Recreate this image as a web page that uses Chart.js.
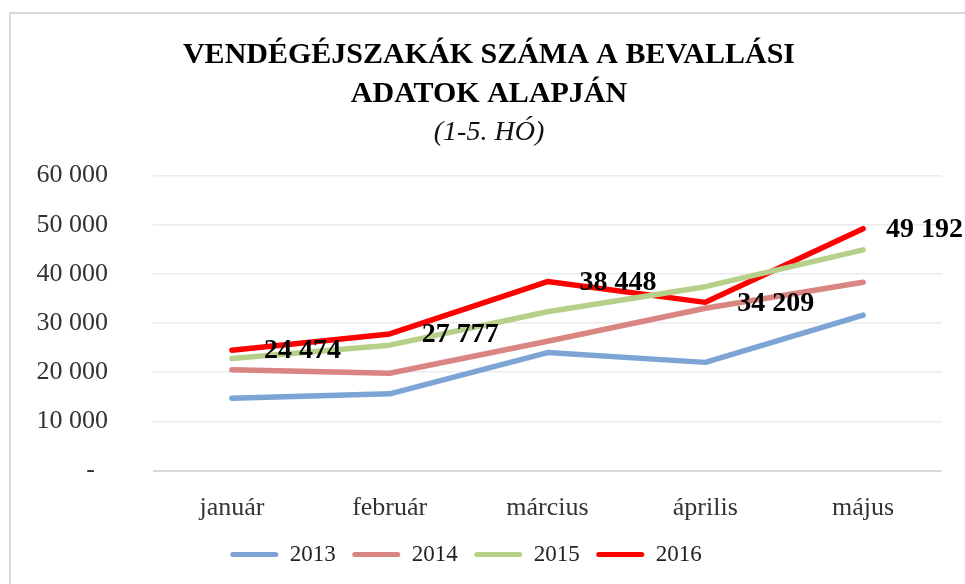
<!DOCTYPE html>
<html lang="hu">
<head>
<meta charset="utf-8">
<title>Vendégéjszakák száma</title>
<script src="https://cdn.jsdelivr.net/npm/chart.js@4/dist/chart.umd.min.js"></script>
<style>
    html, body { margin: 0; padding: 0; background: #fff; overflow: hidden; }
    #wrap { position: relative; width: 965px; height: 584px; }
    #frame {
        position: absolute; left: 9px; top: 12px; width: 1000px; height: 620px;
        border: 2px solid #d9d9d9; box-sizing: border-box;
    }
    #chart { position: absolute; left: 0; top: 0; }
</style>
</head>
<body>
<div id="wrap">
    <div id="frame"></div>
    <canvas id="chart" width="965" height="584"></canvas>
</div>
<script>
// ── Data ─────────────────────────────────────────────────────────────────────

const months = ['január', 'február', 'március', 'április', 'május'];
const years = ['2013', '2014', '2015', '2016'];

const nights2013 = [14700, 15600, 24000, 22000, 31600];
const nights2014 = [20500, 19800, 26300, 33000, 38300];
const nights2015 = [22800, 25500, 32300, 37400, 44900];
const nights2016 = [24474, 27777, 38448, 34209, 49192];

const yTicks = [0, 10000, 20000, 30000, 40000, 50000, 60000];

// ── Helpers ──────────────────────────────────────────────────────────────────

const SERIF = '"Liberation Serif", "DejaVu Serif", serif';
const colors = ['#7ca5d6', '#d98582', '#b6d08a', '#ff0000'];

const fmt = (v) => String(Math.round(v)).replace(/\B(?=(\d{3})+(?!\d))/g, ' ');

// Bold value labels to the right of the 2016 points
const valueLabels = {
    id: 'valueLabels',
    afterDatasetsDraw(chart) {
        const idx = chart.data.datasets.length - 1;
        const meta = chart.getDatasetMeta(idx);
        const ctx = chart.ctx;
        ctx.save();
        ctx.font = `bold 28px ${SERIF}`;
        ctx.fillStyle = '#000';
        ctx.textAlign = 'left';
        ctx.textBaseline = 'middle';
        meta.data.forEach((pt, i) => {
            const txt = fmt(chart.data.datasets[idx].data[i]);
            const w = ctx.measureText(txt).width;
            const x = Math.min(pt.x + 32, chart.width - w - 2);
            ctx.fillText(txt, x, pt.y + 1);
        });
        ctx.restore();
    },
};

// ── Chart ────────────────────────────────────────────────────────────────────

const series = [nights2013, nights2014, nights2015, nights2016];

new Chart(document.getElementById('chart'), {
    type: 'line',
    data: {
        labels: months,
        datasets: series.map((data, i) => ({
            label: years[i],
            data,
            borderColor: colors[i],
            backgroundColor: colors[i],
            borderWidth: 5.5,
            borderCapStyle: 'round',
            borderJoinStyle: 'round',
            pointRadius: 0,
            tension: 0,
        })),
    },
    options: {
        responsive: false,
        animation: false,
        layout: { padding: { top: 18, left: 36, right: 23, bottom: 8 } },
        plugins: {
            title: {
                display: true,
                text: ['VENDÉGÉJSZAKÁK SZÁMA A BEVALLÁSI', 'ADATOK ALAPJÁN'],
                color: '#000',
                font: { family: SERIF, size: 30, weight: 'bold', lineHeight: 1.3 },
                padding: { top: 18, bottom: 0 },
            },
            subtitle: {
                display: true,
                text: '(1-5. HÓ)',
                color: '#111',
                font: { family: SERIF, size: 28, style: 'italic', lineHeight: 1.2 },
                padding: { top: 2, bottom: 26 },
            },
            legend: {
                position: 'bottom',
                labels: {
                    color: '#222',
                    font: { family: SERIF, size: 23 },
                    boxWidth: 48,
                    boxHeight: 5,
                    padding: 16.5,
                    useBorderRadius: true,
                    // trailing spaces on the last item nudge the centred row to the left
                    generateLabels: (chart) => chart.data.datasets.map((ds, i, all) => ({
                        text: ds.label + (i === all.length - 1 ? '\u00a0'.repeat(8) : ''),
                        fillStyle: ds.borderColor,
                        strokeStyle: ds.borderColor,
                        lineWidth: 0,
                        borderRadius: 2.5,
                        datasetIndex: i,
                        fontColor: '#222',
                    })),
                },
            },
            tooltip: { enabled: false },
        },
        scales: {
            x: {
                offset: true,
                grid: { display: false },
                border: { display: false },
                ticks: { color: '#333', font: { family: SERIF, size: 26 }, padding: 14 },
                afterFit: (axis) => { axis.height = 56; },
            },
            y: {
                min: 0,
                max: 60000,
                afterBuildTicks: (axis) => { axis.ticks = yTicks.map((value) => ({ value })); },
                afterFit: (axis) => { axis.width = 117; },
                grid: {
                    color: (c) => (c.tick && c.tick.value === 0 ? '#d9d9d9' : '#ebebeb'),
                    lineWidth: (c) => (c.tick && c.tick.value === 0 ? 2 : 1.5),
                    drawTicks: false,
                },
                border: { display: false },
                ticks: {
                    color: '#333',
                    font: { family: SERIF, size: 26 },
                    padding: 45,
                    callback: (v) => (v === 0 ? '-  ' : fmt(v)),
                },
            },
        },
    },
    plugins: [valueLabels],
});
</script>
</body>
</html>
